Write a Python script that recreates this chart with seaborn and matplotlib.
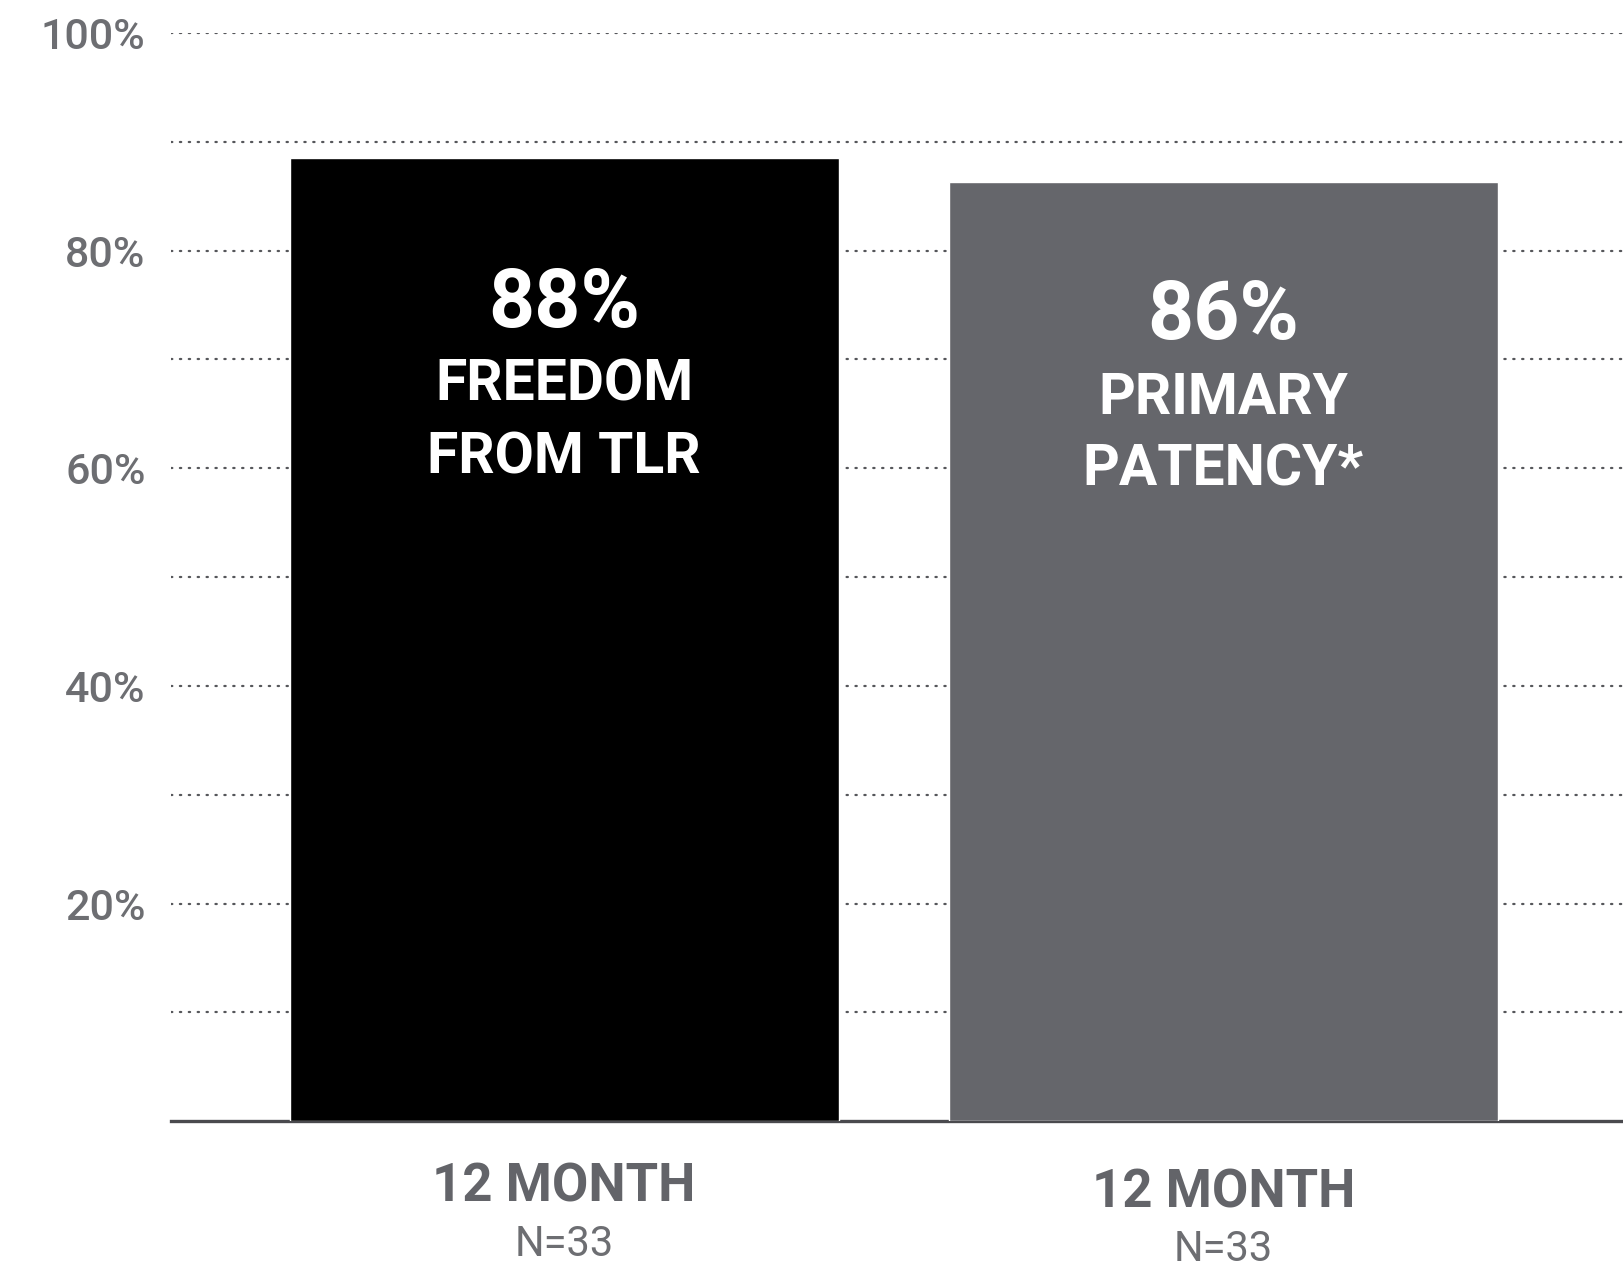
import matplotlib
matplotlib.use("Agg")
import matplotlib.pyplot as plt
import seaborn as sns
import pandas as pd

# values
outcomes = ["Freedom from TLR", "Primary patency"]
values = [88.5, 86.3]
value_labels = ["88%", "86%"]
inner_labels = [["FREEDOM", "FROM TLR"], ["PRIMARY", "PATENCY*"]]
period_labels = ["12 MONTH", "12 MONTH"]
n_labels = ["N=33", "N=33"]
bar_colors = ["#000000", "#65666b"]
grid_ticks = [10, 20, 30, 40, 50, 60, 70, 80, 90, 100]
tick_labels = ["", "20%", "", "40%", "", "60%", "", "80%", "", "100%"]

# text baselines (data units) per bar
value_y = [73.0, 71.9]
line1_y = [66.2, 65.0]
line2_y = [59.5, 58.4]
period_y = [-7.4, -7.9]
n_y = [-12.4, -12.8]

sns.set_theme(style="white")
plt.rcParams["font.family"] = ["Roboto", "DejaVu Sans"]

df = pd.DataFrame({"outcome": outcomes, "value": values})

fig = plt.figure(figsize=(16.24, 12.67), dpi=100)
ax = fig.add_axes([0.105, 0.115, 0.895, 0.859])

sns.barplot(data=df, x="outcome", y="value", hue="outcome",
            palette=bar_colors, width=0.833, dodge=False, legend=False,
            saturation=1, zorder=3, ax=ax)

ax.set_ylim(0, 100)
ax.set_xlim(-0.597, 1.608)
ax.set_yticks(grid_ticks)
ax.set_yticklabels(tick_labels)
ax.yaxis.grid(True, color="#55565a", linewidth=1.6,
              linestyle=(0, (0.6, 3.4)), dash_capstyle="round", zorder=0)
ax.set_axisbelow(True)
ax.tick_params(axis="y", length=0, pad=18, labelsize=31, labelcolor="#6d6e72")
for lab in ax.get_yticklabels():
    lab.set_fontweight("medium")
ax.set_xticks([])
ax.set_xlabel("")
ax.set_ylabel("")

for side in ["top", "right", "left"]:
    ax.spines[side].set_visible(False)
ax.spines["bottom"].set_color("#4a4a4e")
ax.spines["bottom"].set_linewidth(2.4)

for i in range(len(values)):
    ax.text(i, value_y[i], value_labels[i], ha="center", va="baseline",
            color="white", fontsize=58, fontweight="bold", zorder=5)
    ax.text(i, line1_y[i], inner_labels[i][0], ha="center", va="baseline",
            color="white", fontsize=41, fontweight="bold", zorder=5)
    ax.text(i, line2_y[i], inner_labels[i][1], ha="center", va="baseline",
            color="white", fontsize=41, fontweight="bold", zorder=5)
    ax.text(i, period_y[i], period_labels[i], ha="center", va="baseline",
            color="#636469", fontsize=38, fontweight="bold", clip_on=False)
    ax.text(i, n_y[i], n_labels[i], ha="center", va="baseline",
            color="#6d6e72", fontsize=30, fontweight="normal", clip_on=False)

fig.savefig("out.png", dpi=100)
